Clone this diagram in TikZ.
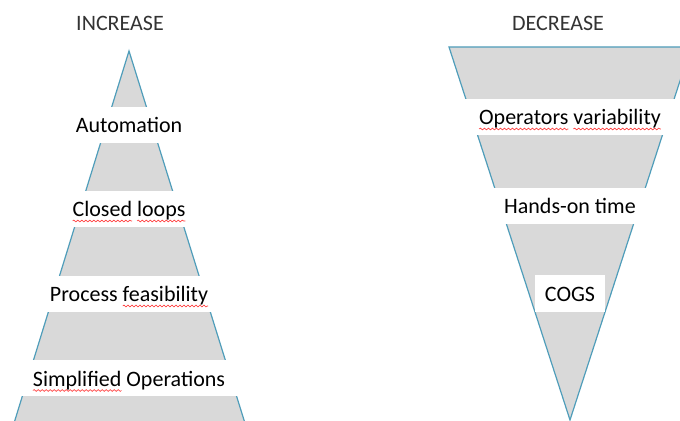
\documentclass[tikz,border=0pt]{standalone}
\usepackage{fontspec}
\setmainfont{Carlito}
\usetikzlibrary{decorations.pathmorphing}
\definecolor{edgeblue}{HTML}{4F9DBA}
\definecolor{greyfill}{HTML}{D9D9D9}
\newsavebox\spellbox
\newcommand\spell[1]{\sbox\spellbox{#1}\rlap{\tikz[overlay, baseline=0pt, x=1pt, y=1pt] \draw[red!80, line width=0.3pt, decorate, decoration={snake, amplitude=0.45pt, segment length=2pt}] (0,-2) -- (\the\wd\spellbox,-2);}\usebox\spellbox}

\begin{document}
\begin{tikzpicture}[x=0.5pt, y=-0.5pt,
		band/.style={fill=white, minimum width=125pt, minimum height=18pt, inner sep=0pt, text height=0.8em, text depth=0pt, font=\fontsize{11}{13}\selectfont},
		head/.style={anchor=base, font=\fontsize{11}{13}\selectfont, text=black!80}]
	\useasboundingbox (0,0) rectangle (680,421);
	\clip (0,0) rectangle (680,421);
	
	\fill[greyfill] (129,51) -- (247.1,430) -- (11.9,430) -- cycle;
	\draw[edgeblue, line width=0.6pt] (11.9,430) -- (129,51) -- (247.1,430);
	\filldraw[fill=greyfill, draw=edgeblue, line width=0.6pt] (449,47) -- (691,47) -- (570,420) -- cycle;
	
	\node[head] (inc) at (120,31) {INCREASE};
	\node[head] (dec) at (558,31) {DECREASE};
	
	\node[band] (auto) at (129,125) {Automation};
	\node[band] (loops) at (129,209) {\spell{Closed} \spell{loops}};
	\node[band] (feas) at (129,294) {Process \spell{feasibility}};
	\node[band] (simp) at (129,378.5) {\spell{Simplified} Operations};
	
	\node[band] (var) at (570,117) {\spell{Operators} \spell{variability}};
	\node[band] (hands) at (570,206) {Hands-on time};
	\node[band, minimum width=35pt, minimum height=18.5pt] (cogs) at (570,293.5) {COGS};
\end{tikzpicture}
\end{document}
